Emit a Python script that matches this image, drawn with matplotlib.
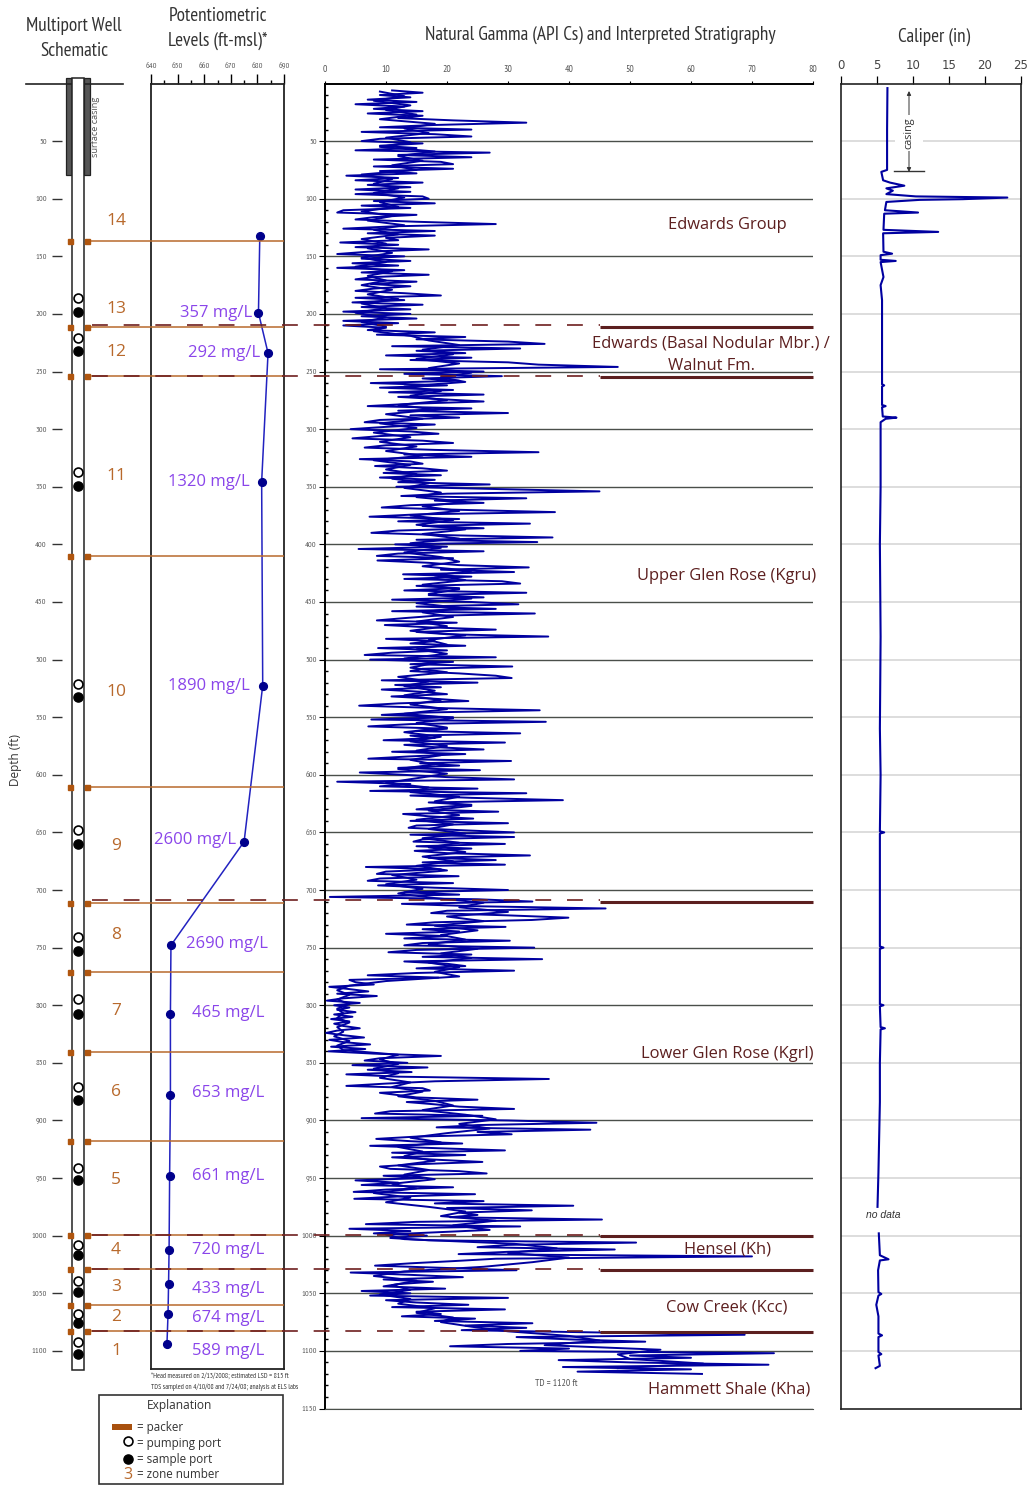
# multiport well log figure: schematic, potentiometric levels, gamma and caliper
import numpy as np
import matplotlib
matplotlib.use('Agg')
import matplotlib.pyplot as plt
from matplotlib.patches import Rectangle

W, H = 1029, 1485
TOP_PX, BOT_PX = 83.5, 1408.5
MAX_DEPTH = 1150
PX_PER_FT = (BOT_PX - TOP_PX) / MAX_DEPTH

NARROW = ['PT Sans Narrow', 'Liberation Sans']
BODY = ['Open Sans', 'DejaVu Sans']
BROWN = '#b8692c'
PURPLE = '#8a45ea'
MAROON = '#5c1f1f'
BLUE = '#0000a0'
NAVY = '#00008c'
GREY = '#555555'

# natural gamma, one value every 2 ft starting at 6 ft
GAMMA_START, GAMMA_STEP = 6, 2
gamma_6 = [11, 16, 9, 14, 7, 15, 5, 13, 8, 16, 7, 16, 12, 21, 33, 18, 9, 24, 6, 18, 24, 9, 6, 16, 9]
gamma_56 = [15, 5, 27, 12, 24, 8, 19, 21, 8, 21, 9, 15, 3.5, 12, 5, 16, 7, 14, 5, 14, 5, 16, 17, 8, 18]
gamma_106 = [6, 14, 3, 2, 15, 8, 5, 15, 28, 11, 3, 18, 7, 18, 10, 12, 2.5, 12, 5, 17, 7, 2, 13, 6, 14]
gamma_156 = [4.5, 12, 2, 13, 6, 17, 8, 5, 15, 7.5, 14, 8, 5, 13, 19, 5, 13, 4.5, 16, 6, 14, 3, 14, 6, 15]
gamma_206 = [3, 12, 3, 10, 7, 18, 8.5, 23, 15, 30, 36, 11, 32, 15, 23, 10, 24, 14, 30, 35, 48, 9, 26, 13, 29]
gamma_256 = [16, 22, 7.5, 20, 9, 21, 10.5, 26, 12, 19, 26, 14, 7, 24, 12, 30, 14, 22, 9, 6.5, 18, 10, 4.2, 14, 18.6]
gamma_306 = [9, 4.5, 16, 21, 10, 6.5, 18, 35, 13, 24, 5.7, 14, 16, 8.2, 16, 20, 9.6, 19, 9, 18, 12, 27, 11.7, 28, 45]
gamma_356 = [20, 12.5, 33, 18, 26, 14, 9.3, 22, 37.7, 15, 7.3, 22, 12, 33.6, 16, 26, 12, 7.6, 20, 37.3, 15, 34.8, 11.5, 20, 5.5]
gamma_406 = [26, 12, 8.5, 21, 8.6, 17, 22, 33.4, 19, 31, 12.8, 24, 13, 29, 32, 15, 22, 13, 33, 17, 26, 11, 24, 31.7, 15]
gamma_456 = [28, 11, 34.4, 18, 13, 8.5, 21.6, 9.8, 17, 28, 15, 20, 36.6, 10, 18, 14, 23, 8.7, 20, 11, 6.5, 28, 7.4, 21, 14]
gamma_506 = [30.7, 16, 14, 22, 28, 30.6, 9.3, 25, 11.5, 19, 9.3, 16, 20, 10.9, 18, 23.5, 12, 5.6, 18, 35.2, 16, 9.3, 21, 7.6, 36.2]
gamma_556 = [14, 7.1, 20, 15, 32, 14, 18, 9.6, 29.5, 13, 18, 26, 11, 23, 14, 7.1, 30.5, 15.6, 22, 12, 25.4, 5.7, 13, 20, 31]
gamma_606 = [2, 14, 9, 25, 7.4, 33, 14, 24, 39, 17, 24, 19, 15, 28.4, 12.8, 17, 24.3, 14, 30, 15, 13.7, 22, 31, 14, 31]
gamma_656 = [16, 14.5, 29.5, 15, 24, 14.7, 20, 33.6, 17, 28, 16, 29.5, 6.7, 19, 10, 8.5, 21.9, 9, 7, 21, 8.7, 18, 30, 13, 22]
gamma_706 = [0.8, 25, 34, 12.6, 24, 46, 20, 17.4, 30, 39.9, 33.9, 18, 13.4, 29.6, 16, 22, 10, 20, 13, 30.3, 16, 13, 34.3, 15, 10.4]
gamma_756 = [24, 16, 35.6, 13, 20, 23, 15, 31, 15, 7, 18.6, 4, 5, 8, 0.7, 4, 7.1, 2, 8.5, 3, 0.3, 5.7, 1.5, 4, 2]
gamma_806 = [5, 1.5, 4.5, 1, 4, 1.5, 3, 5.7, 2, 0.2, 3, 6.4, 0.7, 3, 7.4, 1, 6.6, 0.6, 8, 19, 9, 6.5, 13.5, 4.5, 16.8]
gamma_856 = [7, 14.2, 3.5, 12, 36.7, 18, 10, 3.5, 16, 17.2, 9, 12, 15, 25, 13.4, 18, 22, 31, 10.7, 8.2, 25.8, 6, 30, 44.5, 25]
gamma_906 = [18.3, 43.5, 25, 30.6, 15, 8.4, 14, 22.5, 7.4, 18, 29.5, 11, 23, 11, 18, 25.8, 15, 9, 10.7, 22, 26.5, 9.6, 16, 5, 12]
gamma_956 = [6, 21, 10, 4.7, 24.6, 12, 4.8, 26, 18, 40.7, 20, 33.9, 22, 25, 20.5, 45.4, 15, 6.7, 32, 4, 14, 8, 16.7, 10.7, 17]
gamma_1006 = [51, 30, 25, 47.5, 30, 21.9, 70, 28, 21.3, 14, 8.2, 20, 31.4, 4.2, 14, 22.6, 9.6, 17.7, 12, 9.6, 19.7, 6, 14, 7.4, 30]
gamma_1056 = [10, 15, 23.5, 11, 29.5, 15, 19, 12.6, 24.6, 18, 34, 23, 33, 22.4, 44.8, 68.8, 31.4, 40, 52.5, 30, 20.5, 40, 32, 73.6, 50]
gamma_1106 = [60, 38.3, 50, 72.7, 39, 60, 41.4, 61.8]
gamma_rows = [gamma_6, gamma_56, gamma_106, gamma_156, gamma_206, gamma_256, gamma_306, gamma_356,
              gamma_406, gamma_456, gamma_506, gamma_556, gamma_606, gamma_656, gamma_706, gamma_756,
              gamma_806, gamma_856, gamma_906, gamma_956, gamma_1006, gamma_1056, gamma_1106]

# the dense middle of the gamma trace, one value every 4 ft starting at 7 ft
CORE_START, CORE_STEP = 7, 4
core_7 = [9, 13, 8, 14, 10, 15, 9, 18, 13, 17, 10, 14, 9, 18, 12, 16, 11, 15, 6, 11, 8, 12, 8, 13, 9]
core_107 = [12, 6, 11, 7, 13, 8, 12, 6, 10, 7, 11, 6, 10, 5, 11, 7, 10, 6, 11, 7, 12, 6, 10, 5, 10]
core_207 = [6, 10, 8, 14, 17, 22, 16, 21, 15, 22, 17, 24, 19, 23, 13, 19, 14, 20, 12, 18, 10, 16, 9, 15, 8]
core_307 = [14, 9, 15, 10, 16, 8, 14, 10, 15, 11, 17, 13, 19, 15, 23, 16, 22, 14, 21, 15, 23, 16, 22, 14, 19]
core_407 = [13, 19, 22, 16, 24, 18, 23, 16, 22, 17, 24, 15, 22, 16, 21, 15, 20, 14, 23, 17, 20, 15, 20, 13, 18]
core_507 = [14, 20, 12, 17, 13, 18, 13, 19, 14, 20, 13, 21, 15, 20, 13, 19, 14, 20, 15, 19, 14, 18, 12, 20, 15]
core_607 = [10, 17, 14, 22, 18, 24, 17, 22, 15, 21, 17, 23, 16, 22, 17, 23, 16, 21, 15, 20, 11, 15, 10, 16, 12]
core_707 = [18, 26, 22, 30, 20, 26, 18, 25, 19, 23, 17, 25, 19, 24, 17, 22, 18, 22, 10, 4, 2, 4, 2, 4, 2]
core_807 = [3, 2, 4, 2, 3, 1.5, 4, 2, 3, 12, 9, 12, 8, 12, 9, 14, 11, 16, 12, 18, 21, 16, 23, 28, 22]
core_907 = [27, 20, 14, 19, 12, 16, 13, 18, 12, 17, 13, 18, 11, 15, 8, 14, 10, 17, 23, 19, 28, 21, 27, 10, 13]
core_1007 = [31, 38, 30, 40, 34, 26, 13, 8, 15, 11, 14, 9, 14, 12, 18, 15, 21, 19, 24, 30, 40, 45, 36, 55, 48]
core_1107 = [50, 62, 48]
core_rows = [core_7, core_107, core_207, core_307, core_407, core_507, core_607, core_707,
             core_807, core_907, core_1007, core_1107]

# caliper, upper run and lower run (no data between them)
cal_depth_1 = [4, 40, 75, 76.7, 84, 86, 88.7, 91, 93, 96, 98, 99, 100.4, 101, 102.8, 110, 112, 113, 127,
               128.8, 130, 146, 147.7, 149, 153, 154, 155, 168, 175, 188, 230, 261, 262, 263, 279, 280,
               281, 289, 290, 291, 294, 350, 400, 480, 560, 600, 649, 650, 651, 749, 750, 751, 799, 800,
               801, 819, 820, 821, 850, 884, 945, 975]
cal_val_1 = [6.45, 6.4, 6.4, 5.6, 5.85, 6.8, 8.8, 6.3, 7.2, 6.3, 10.4, 23.1, 16.9, 10.9, 6.3, 6.1, 10.7, 6.0, 5.9,
             13.5, 5.85, 5.9, 7.1, 5.5, 5.5, 7.6, 5.5, 5.9, 5.5, 5.7, 5.7, 5.7, 6.0, 5.7, 5.7, 6.2,
             5.7, 5.8, 7.7, 6.2, 5.5, 5.5, 5.4, 5.5, 5.4, 5.5, 5.4, 6.0, 5.4, 5.4, 5.9, 5.4, 5.4, 5.9,
             5.4, 5.5, 6.1, 5.5, 5.4, 5.4, 5.2, 5.07]
cal_depth_2 = [998, 1017, 1020.5, 1021.5, 1030, 1049, 1050.6, 1052, 1060, 1070, 1085, 1086.5, 1088, 1101, 1102.8,
               1104, 1113, 1115]
cal_val_2 = [5.25, 5.4, 6.6, 5.4, 5.15, 5.2, 5.6, 5.2, 4.9, 5.2, 5.2, 5.7, 5.2, 5.2, 5.6, 5.2, 5.4, 4.8]

# potentiometric level per zone
pot_level = [680.9, 680.4, 684, 681.6, 682, 675, 647.5, 647.3, 647.3, 647, 646.8, 646.6, 646.4, 646]
pot_depth = [132, 199, 234, 345.5, 522.5, 658, 748, 807.5, 878, 948.5, 1012, 1042, 1068, 1094]

# TDS labels: text, right edge in px, centre row in px
tds_text = ['357 mg/L', '292 mg/L', '1320 mg/L', '1890 mg/L', '2600 mg/L', '2690 mg/L', '465 mg/L',
            '653 mg/L', '661 mg/L', '720 mg/L', '433 mg/L', '674 mg/L', '589 mg/L']
tds_right = [252, 260, 250, 250, 236, 268, 264, 264, 264, 264, 264, 264, 264]
tds_row = [313, 353, 482, 686, 840, 944, 1013, 1093, 1176, 1250, 1289, 1318, 1351]

zone_num = ['14', '13', '12', '11', '10', '9', '8', '7', '6', '5', '4', '3', '2', '1']
zone_row = [221, 309, 352, 476, 692, 846, 935, 1011, 1092, 1180, 1250, 1287, 1317, 1351]

packer_depth = [137, 211, 253.5, 410, 611, 711, 771, 840.5, 918, 999.5, 1029, 1060, 1083]
pump_depth = [186.5, 221, 337, 521, 648, 741, 795, 871, 941, 1008, 1039, 1068, 1092]
sample_depth = [198, 232.5, 349, 532.5, 660, 752.5, 807.5, 882, 952, 1017, 1048.5, 1076, 1103]

strat_depth = [210, 254, 709, 999.5, 1029, 1083]
strat_text = ['Edwards Group', 'Edwards (Basal Nodular Mbr.) /', 'Walnut Fm.', 'Upper Glen Rose (Kgru)',
              'Lower Glen Rose (Kgrl)', 'Hensel (Kh)', 'Cow Creek (Kcc)', 'Hammett Shale (Kha)']
strat_x = [727, 711, 712, 727, 727, 727, 727, 729]
strat_row = [225, 343, 366, 576, 1054, 1249, 1308, 1389]

depth_ticks = np.arange(50, 1151, 50)
gamma_ticks = np.arange(0, 81, 10)
pot_ticks = np.arange(640, 691, 10)
cal_ticks = np.arange(0, 26, 5)


def py(y):
    # pixel row of the page to depth in ft
    return (y - TOP_PX) / PX_PER_FT


def panel(x0, x1, y0=TOP_PX, y1=BOT_PX):
    # axes placed by pixel box
    return fig.add_axes([x0 / W, 1 - y1 / H, (x1 - x0) / W, (y1 - y0) / H])


fig = plt.figure(figsize=(W / 100, H / 100), dpi=100, facecolor='white')

# potentiometric panel
ax_pot = panel(151, 284, TOP_PX, 1369)
ax_pot.set_xlim(640, 690)
ax_pot.set_ylim(py(1369), 0)
ax_pot.plot(pot_level, pot_depth, color='#2222c0', lw=1.1, marker='o', ms=5.6, mfc=NAVY, mec=NAVY, zorder=3)
ax_pot.xaxis.tick_top()
ax_pot.set_xticks(pot_ticks)
ax_pot.set_xticks(np.arange(645, 690, 10), minor=True)
ax_pot.tick_params(axis='x', which='major', length=7, width=1, pad=3, labelsize=6, labelcolor=GREY)
ax_pot.tick_params(axis='x', which='minor', length=3, width=1)
ax_pot.set_yticks([])
for lab in ax_pot.get_xticklabels():
    lab.set_family(NARROW)
for s in ax_pot.spines.values():
    s.set_linewidth(1.3)
    s.set_color('#222222')

# natural gamma panel
ax_gam = panel(325, 813)
ax_gam.set_xlim(0, 80)
ax_gam.set_ylim(MAX_DEPTH, 0)
gamma_all = np.concatenate(gamma_rows)
gamma_dep = GAMMA_START + GAMMA_STEP * np.arange(len(gamma_all))
core_all = np.concatenate(core_rows)
core_dep = CORE_START + CORE_STEP * np.arange(len(core_all))
ax_gam.plot(core_all, core_dep, color=BLUE, lw=1.4, solid_joinstyle='round', zorder=3)
ax_gam.plot(gamma_all, gamma_dep, color=BLUE, lw=1.4, solid_joinstyle='round', zorder=3)
ax_gam.xaxis.tick_top()
ax_gam.set_xticks(gamma_ticks)
ax_gam.set_yticks(depth_ticks)
ax_gam.set_yticks(np.arange(10, 1150, 10), minor=True)
ax_gam.tick_params(axis='x', length=2, width=0.8, pad=5, labelsize=7, labelcolor=GREY)
ax_gam.tick_params(axis='y', which='major', length=4, width=0.8, pad=2, labelsize=6, labelcolor=GREY)
ax_gam.tick_params(axis='y', which='minor', direction='in', length=2.5, width=1)
ax_gam.grid(True, axis='y', which='major', color='#4a4f4a', lw=1)
ax_gam.set_axisbelow(True)
for lab in ax_gam.get_xticklabels() + ax_gam.get_yticklabels():
    lab.set_family(NARROW)
ax_gam.spines['right'].set_visible(False)
ax_gam.spines['bottom'].set_color('#4a4f4a')
ax_gam.spines['left'].set_linewidth(1.4)
ax_gam.spines['top'].set_linewidth(1.4)

# caliper panel
ax_cal = panel(841, 1021)
ax_cal.set_xlim(0, 25)
ax_cal.set_ylim(MAX_DEPTH, 0)
ax_cal.plot(cal_val_1, cal_depth_1, color=BLUE, lw=1.5, zorder=3)
ax_cal.plot(cal_val_2, cal_depth_2, color=BLUE, lw=1.5, zorder=3)
ax_cal.xaxis.tick_top()
ax_cal.set_xticks(cal_ticks)
ax_cal.set_yticks(depth_ticks[:-1])
ax_cal.tick_params(axis='x', length=6, width=0.9, pad=2, labelsize=8.5, labelcolor='#444444')
ax_cal.tick_params(axis='y', length=0, labelleft=False)
ax_cal.grid(True, axis='y', color='#dddddd', lw=1.4)
ax_cal.set_axisbelow(True)
for s in ax_cal.spines.values():
    s.set_linewidth(1.2)
    s.set_color('#222222')

# depth scale next to the well, no box
ax_well = panel(62, 123)
ax_well.set_ylim(MAX_DEPTH, 0)
ax_well.set_xticks([])
ax_well.set_yticks(depth_ticks[:-1])
ax_well.tick_params(axis='y', length=7, width=1, pad=4, labelsize=6, labelcolor=GREY, color='#333333')
for lab in ax_well.get_yticklabels():
    lab.set_family(NARROW)
for s in ax_well.spines.values():
    s.set_visible(False)
ax_well.patch.set_alpha(0)

# page overlay: x in pixels, y in depth, used for everything that spans panels
ax = fig.add_axes([0, 0, 1, 1])
ax.set_xlim(0, W)
ax.set_ylim(py(H), py(0))
ax.axis('off')
ax.patch.set_alpha(0)

# well schematic
ax.plot([26, 123], [0, 0], color='#222222', lw=1.2)
for x0 in (65.5, 84):
    ax.add_patch(Rectangle((x0, py(78)), 6, py(175) - py(78), fc='#555555', ec='#222222', lw=0.9))
ax.add_patch(Rectangle((72, py(78)), 12, py(1370) - py(78), fc='white', ec='#222222', lw=1.1, zorder=2))
ax.plot([77.5] * len(pump_depth), pump_depth, 'o', ms=6.4, mfc='white', mec='black', mew=1.2, zorder=4)
ax.plot([77.5] * len(sample_depth), sample_depth, 'o', ms=6.6, color='black', zorder=4)

# packers and zone boundaries
ax.hlines(packer_depth, 87, 284, color=BROWN, lw=1.1, zorder=3)
ax.plot([69.5] * len(packer_depth), packer_depth, 's', ms=3.6, color='#b0560f', zorder=3)
ax.plot([86.5] * len(packer_depth), packer_depth, 's', ms=3.6, color='#b0560f', zorder=3)

# formation contacts: dashed across, solid over the right of the gamma panel
for d in strat_depth:
    ax.plot([92, 600], [d, d], color='#6e1f1f', lw=1.2, ls=(0, (9.5, 9.5)), zorder=5)
    ax.plot([600, 813], [d + 1, d + 1], color=MAROON, lw=2.2, solid_capstyle='butt', zorder=5)

# text
for x, y, s in [(74, 26, 'Multiport Well'), (74, 51, 'Schematic'), (218, 16, 'Potentiometric'),
                (218, 41, 'Levels (ft-msl)*'), (600, 35, 'Natural Gamma (API Cs) and Interpreted Stratigraphy'),
                (934, 37, 'Caliper (in)')]:
    ax.text(x, py(y), s, ha='center', va='center', family=NARROW, fontsize=13.9, color='#333333')

for s, x, y in zip(zone_num, [116] * len(zone_num), zone_row):
    ax.text(x, py(y), s, ha='center', va='center', family=BODY, fontsize=12.5, color=BROWN, zorder=6)
for s, x, y in zip(tds_text, tds_right, tds_row):
    ax.text(x, py(y), s, ha='right', va='center', family=BODY, fontsize=12, color=PURPLE, zorder=6)
for s, x, y in zip(strat_text, strat_x, strat_row):
    ax.text(x, py(y), s, ha='center', va='center', family=BODY, fontsize=11.9, color=MAROON, zorder=6)

ax.text(15, py(760), 'Depth (ft)', rotation=90, ha='center', va='center', family=BODY, fontsize=8.5, color='#333333')
ax.text(96, py(127), 'surface casing', rotation=90, ha='center', va='center', family=BODY, fontsize=6.6, color=GREY)
ax.text(151, py(1376), '*Head measured on 2/13/2008; estimated LSD = 815 ft', ha='left', va='center',
        family=NARROW, fontsize=5.2, color='#333333')
ax.text(151, py(1387), 'TDS sampled on 4/10/08 and 7/24/08; analysis at ELS labs', ha='left', va='center',
        family=NARROW, fontsize=5.2, color='#333333')
ax.text(556, py(1383), 'TD = 1120 ft', ha='center', va='center', family=NARROW, fontsize=7, color=GREY)
ax.text(883, py(1215), 'no data', ha='center', va='center', family=['Liberation Sans'], style='italic', fontsize=7.5, color='#333333')

# casing marker on the caliper panel
ax.add_patch(Rectangle((895, py(140)), 28, py(148) - py(140), fc='white', ec='none', zorder=4))
ax.annotate('', xy=(909, py(91)), xytext=(909, py(172)),
            arrowprops=dict(arrowstyle='<|-|>', color='#333333', lw=0.7, mutation_scale=6, shrinkA=0, shrinkB=0), zorder=5)
ax.plot([894, 924], [py(171), py(171)], color='#333333', lw=1, zorder=5)
ax.text(909, py(133), 'casing', rotation=90, ha='center', va='center', family=BODY, fontsize=7.8, color='#333333',
        zorder=6, bbox=dict(fc='white', ec='none', pad=1.5))

# explanation box (runs off the bottom of the page)
ax.add_patch(Rectangle((99, py(1395)), 184, py(1484) - py(1395), fc='white', ec='#333333', lw=1.2, clip_on=True))
ax.text(180, py(1406), 'Explanation', ha='center', va='center', family=BODY, fontsize=8.6, color='#333333')
ax.add_patch(Rectangle((112, py(1424)), 20, py(1430) - py(1424), fc='#a8500e', ec='none'))
ax.plot([128], [py(1441)], 'o', ms=6.4, mfc='white', mec='black', mew=1.2)
ax.plot([128], [py(1459)], 'o', ms=6.6, color='black')
ax.text(128, py(1475), '3', ha='center', va='center', family=BODY, fontsize=11.5, color=BROWN)
for y, s in [(1427, '= packer'), (1443, '= pumping port'), (1459, '= sample port'), (1475, '= zone number')]:
    ax.text(137, py(y), s, ha='left', va='center', family=BODY, fontsize=8.4, color='#333333')

fig.savefig('out.png', dpi=100)
